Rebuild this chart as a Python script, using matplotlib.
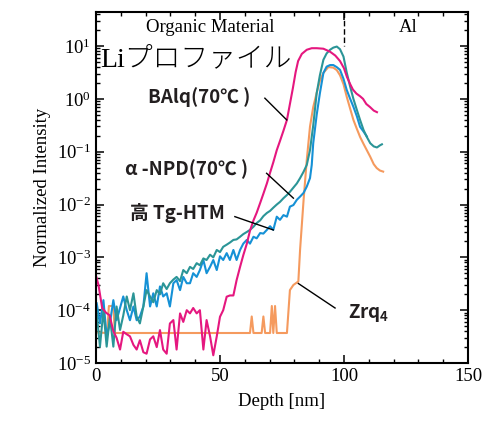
import numpy as np
import matplotlib
matplotlib.use("Agg")
import matplotlib.pyplot as plt
from matplotlib.ticker import MultipleLocator, FixedLocator, NullFormatter

plt.rcParams['font.family'] = ['Liberation Serif', 'DejaVu Serif']
plt.rcParams['axes.unicode_minus'] = False

# BAlq (70C) - pink
balq_x = [0, 1, 2.5, 4, 5.5, 7, 8.3, 9.7, 11, 12.4, 13.7, 15.1, 16.4, 17.7, 19.1, 20.4,
          21.8, 23.1, 24.5, 25.8, 27.1, 28.5, 29.8, 31.2, 32.5, 33.9, 35.2, 36.6, 37.9,
          39.2, 40.6, 41.9, 43.3, 44.6, 46, 47.3, 48.7, 50, 51.3, 52.7, 54, 55.4, 56.7,
          58.1, 59.4, 60.8, 62.1, 63.5, 64.8, 66.2, 67.5, 68.9, 70.2, 71.5, 72.9, 74.2,
          75.6, 77, 78.2, 79.4, 80.5, 81.5, 83, 85, 87, 89, 91.7, 94.4, 96.5, 98.4, 100,
          101.2, 102.5, 103.6, 105, 106.5, 107.7, 109, 110.5, 112, 113.3]
balq_y = [4.5e-4, 3e-4, 1.1e-4, 9e-5, 8e-5, 4e-5, 3e-5, 1.8e-5, 3.9e-5, 3.5e-5, 3.2e-5,
          2.2e-5, 1.8e-5, 2.7e-5, 1.6e-5, 1.5e-5, 2.8e-5, 3.2e-5, 2e-5, 4.2e-5, 1.8e-5,
          1.5e-5, 5.6e-5, 6.5e-5, 1.8e-5, 8.7e-5, 6e-5, 1e-4, 8.7e-5, 1.1e-4, 8.7e-5,
          1e-4, 1.8e-5, 6.5e-5, 3.2e-5, 1.4e-5, 3.2e-5, 7.5e-5, 1e-4, 1.8e-4, 1.9e-4,
          1.9e-4, 3.7e-4, 6.6e-4, 1.1e-3, 1.8e-3, 3.2e-3, 5e-3, 7e-3, 1.07e-2, 1.6e-2,
          2.5e-2, 4e-2, 6.3e-2, 0.107, 0.16, 0.25, 0.4, 0.8, 1.6, 3.2, 5.2, 7.1, 8.5, 9.1,
          9.1, 8.9, 7.8, 6.6, 5.2, 3.8, 2.6, 1.9, 1.5, 1.26, 1.12, 1.0, 0.8, 0.7, 0.6, 0.56]

# alpha-NPD (70C) - teal
npd_x = [0, 1.6, 3, 4.3, 5.6, 7, 8.3, 9.7, 11, 12.4, 13.7, 15.1, 16.4, 17.7, 19.1, 20.4,
         21.8, 23.1, 24.5, 25.8, 27.1, 28.5, 29.8, 31.2, 32.5, 33.9, 35.2, 36.6, 37.9,
         39.2, 40.6, 41.9, 43.3, 44.6, 46, 47.3, 48.7, 50, 51.3, 52.7, 54, 55.4, 56.7,
         58.1, 59.4, 60.8, 62.1, 63.5, 64.8, 66.2, 67.5, 68.9, 70.2, 71.5, 72.9, 74.2,
         75.6, 77, 78.2, 79.6, 81, 82.3, 83.7, 85, 86.3, 87.6, 89, 90.3, 91.7, 93, 94.4,
         95.7, 97.1, 98.4, 99.8, 101.1, 102.5, 103.8, 105.2, 106.5, 107.9, 109.2, 110.6,
         112, 113.3, 114.5, 115.3]
npd_logy = [-3.93, -4.69, -4.0, -4.69, -4.12, -4.69, -3.93, -4.375, -4.1, -3.74, -4.0,
            -3.68, -4.12, -4.25, -3.93, -3.62, -3.74, -3.85, -3.62, -3.7, -3.49, -3.6,
            -3.49, -3.42, -3.37, -3.45, -3.24, -3.3, -3.18, -3.22, -3.11, -3.15, -3.02,
            -3.05, -2.95, -3.0, -2.86, -2.9, -2.8, -2.76, -2.72, -2.67, -2.66, -2.61,
            -2.56, -2.52, -2.48, -2.42, -2.35, -2.3, -2.22, -2.16, -2.12, -2.06, -2.0,
            -1.95, -1.88, -1.82, -1.76, -1.68, -1.6, -1.5, -1.38, -1.25, -0.97, -0.5,
            0.11, 0.45, 0.74, 0.86, 0.93, 0.97, 0.99, 0.94, 0.8, 0.5, 0.23, 0.0, -0.21,
            -0.4, -0.59, -0.72, -0.84, -0.9, -0.92, -0.88, -0.86]

# high-Tg HTM - blue
htm_x = [0.3, 1.6, 3.0, 4.3, 5.6, 7.0, 8.3, 11.0, 12.4, 13.7, 15.1, 16.4, 17.7, 19.1,
         20.4, 21.8, 23.1, 24.5, 25.8, 27.1, 28.5, 29.8, 31.2, 32.5, 33.9, 35.2, 36.6,
         37.9, 39.2, 40.6, 41.9, 43.3, 44.6, 46.0, 47.3, 48.7, 50.0, 51.3, 52.7, 54.0,
         55.4, 56.7, 58.1, 59.4, 60.8, 62.1, 63.5, 64.8, 66.2, 67.5, 68.9, 70.2, 71.5,
         72.9, 74.2, 75.6, 77.0, 78.2, 79.6, 81.0, 82.3, 83.7, 85.0, 86.3, 87.0, 87.6,
         89.0, 90.3, 91.7, 93.0, 94.4, 95.7, 97.1, 98.4, 99.8, 101.1, 102.5, 103.8,
         105.2, 106.5, 107.9, 109.2]
htm_logy = [-3.87, -4.25, -3.81, -4.5, -4.25, -3.81, -4.19, -3.74, -4.0, -4.19, -3.93,
            -4.19, -4.12, -3.93, -3.30, -3.93, -3.68, -3.93, -3.55, -3.74, -3.68, -3.93,
            -3.49, -3.43, -3.62, -3.37, -3.49, -3.49, -3.30, -3.37, -3.24, -3.05, -3.30,
            -3.18, -3.05, -3.24, -2.98, -3.05, -2.92, -3.05, -2.86, -3.05, -2.86, -2.74,
            -2.67, -2.74, -2.61, -2.64, -2.54, -2.55, -2.48, -2.41, -2.48, -2.23, -2.29,
            -2.2, -2.23, -2.04, -2.01, -1.91, -1.85, -1.78, -1.66, -1.5, -1.25, -0.84,
            -0.3, 0.11, 0.49, 0.61, 0.64, 0.64, 0.6, 0.55, 0.38, 0.17, 0.0, -0.15, -0.33,
            -0.53, -0.62, -0.71]

# Zrq4 - orange
zrq_x = [0, 4.5, 5.2, 7.0, 7.6, 62.1, 62.8, 63.5, 66.8, 67.5, 68.2, 70.2, 70.9, 71.5,
         72.2, 72.9, 77, 78.2, 79.6, 81.6, 82.3, 83.7, 85, 86.3, 87.6, 89, 90.3, 91.7,
         93.7, 95.7, 97.1, 98.4, 99.8, 101.1, 102.5, 103.8, 105.2, 106.5, 107.9, 109.2,
         110.6, 112, 113.2, 114.5, 115.8]
zrq_y = [3.8e-5, 3.7e-5, 1.2e-4, 1.2e-4, 3.7e-5, 3.7e-5, 7.6e-5, 3.7e-5, 3.7e-5, 7.6e-5,
         3.7e-5, 3.7e-5, 1.2e-4, 3.7e-5, 1.2e-4, 3.7e-5, 3.7e-5, 2.4e-4, 3e-4, 3.5e-4,
         1.4e-3, 1.2e-2, 7e-2, 0.3, 0.7, 1.3, 2.2, 3.1, 4.0, 3.9, 3.5, 2.8, 1.9, 1.1, 0.65,
         0.4, 0.27, 0.19, 0.14, 0.107, 0.08, 0.058, 0.049, 0.044, 0.042]

fig = plt.figure(figsize=(4.89, 4.23), dpi=100)
ax = fig.add_axes([0.1963, 0.1418, 0.7607, 0.8298])

ax.plot(zrq_x, zrq_y, color='#f59a5e', lw=1.5)
ax.plot(htm_x, 10 ** np.array(htm_logy), color='#1591d6', lw=1.5)
ax.plot(npd_x, 10 ** np.array(npd_logy), color='#2b9597', lw=1.5)
ax.plot(balq_x, balq_y, color='#e5177f', lw=1.5)

ax.set_yscale('log')
ax.set_xlim(0, 150)
ax.set_ylim(1e-5, 10 ** 1.644)
ax.xaxis.set_major_locator(MultipleLocator(50))
ax.xaxis.set_minor_locator(MultipleLocator(10))
ax.set_yticks([1e-5, 1e-4, 1e-3, 1e-2, 1e-1, 1, 10])
minor = [m * 10.0 ** e for e in range(-5, 2) for m in range(2, 10) if m * 10.0 ** e < 44]
ax.yaxis.set_minor_locator(FixedLocator(minor))
ax.yaxis.set_minor_formatter(NullFormatter())
ax.tick_params(which='both', direction='in', top=True, right=True, labelsize=13.5)
ax.tick_params(which='major', length=6, width=1.1)
ax.tick_params(which='minor', length=3, width=1.0)
for s in ax.spines.values():
    s.set_linewidth(1.5)

ax.set_xlabel('Depth [nm]', fontsize=13.5, labelpad=6)
ax.set_ylabel('Normalized Intensity', fontsize=13.5, labelpad=4)

# region labels
ax.plot([100, 100], [10 ** 1.644, 10], color='black', lw=1.0, ls=(0, (4, 2)))
ax.text(46, 22, 'Organic Material', fontsize=13.5, ha='center', va='center')
ax.text(125.8, 22, 'Al', fontsize=13.5, ha='center', va='center')
ax.text(1.6, 5.5, 'Liプロファイル', fontsize=20, ha='left', va='center',
        family=['Liberation Serif', 'Noto Sans CJK JP'], fontweight='light')

lab = dict(family=['Noto Sans CJK JP'], fontweight='bold', fontsize=13.5,
           ha='left', va='center', color='#231f20')
ax.text(21, 1.1, 'BAlq(70℃ )', **lab)
ax.text(11.7, 0.046, 'α -NPD(70℃ )', **lab)
ax.text(13.7, 6.9e-3, '高 Tg-HTM', **lab)
ax.text(101.7, 8.9e-5, 'Zrq$_\\mathregular{4}$', **lab)

# leader lines
for (x0, y0), (x1, y1) in [((68.1, 1.03), (76.9, 0.40)),
                           ((68.8, 0.039), (79.6, 0.0132)),
                           ((56.0, 5.9e-3), (71.5, 3.3e-3)),
                           ((81.6, 3.2e-4), (96.4, 1.1e-4))]:
    ax.plot([x0, x1], [y0, y1], color='black', lw=1.0)

fig.savefig('out.png', dpi=100)
